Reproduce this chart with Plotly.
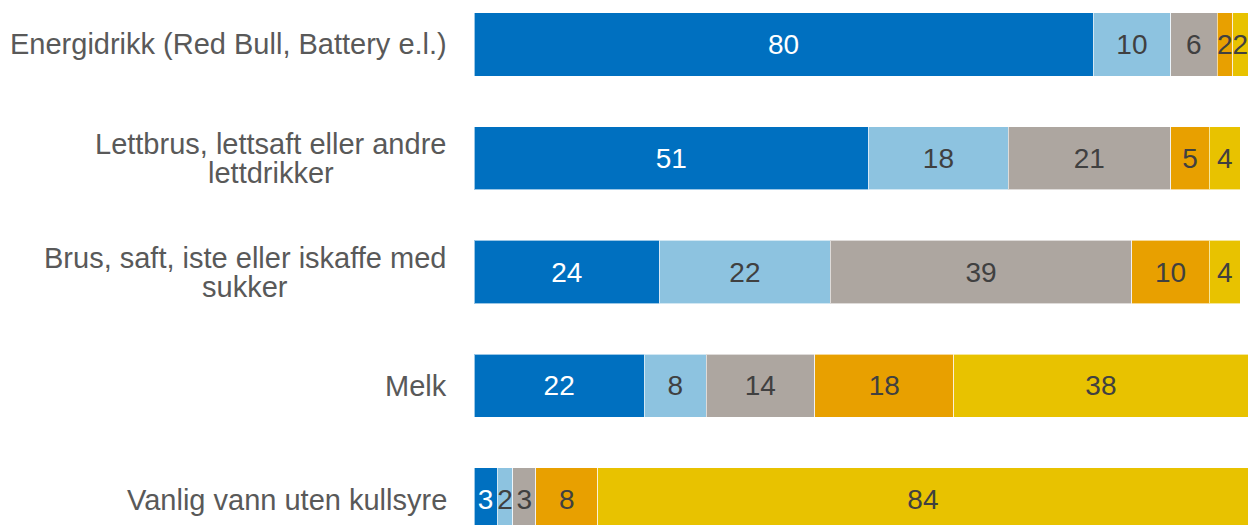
import plotly.graph_objects as go

# Drink categories, listed top to bottom (each sub-list is one label line)
categories = [
    "Energidrikk (Red Bull, Battery e.l.)",
    "Lettbrus, lettsaft eller andre lettdrikker",
    "Brus, saft, iste eller iskaffe med sukker",
    "Melk",
    "Vanlig vann uten kullsyre",
]
category_lines = [
    ["Energidrikk (Red Bull, Battery e.l.)"],
    ["Lettbrus, lettsaft eller andre", "lettdrikker"],
    ["Brus, saft, iste eller iskaffe med", "sukker"],
    ["Melk"],
    ["Vanlig vann uten kullsyre"],
]

# Share (%) per answer group, one list per stacked segment
seg1 = [80, 51, 24, 22, 3]
seg2 = [10, 18, 22, 8, 2]
seg3 = [6, 21, 39, 14, 3]
seg4 = [2, 5, 10, 18, 8]
seg5 = [2, 4, 4, 38, 84]

series = [seg1, seg2, seg3, seg4, seg5]
colors = ["#0070C0", "#8DC3E0", "#ADA6A0", "#E8A000", "#E8C200"]
text_colors = ["#FFFFFF", "#404040", "#404040", "#404040", "#404040"]

FONT = "Liberation Sans, Arial, sans-serif"
VALUE_FS = 28
LABEL_FS = 29
LABEL_COLOR = "#595959"
LABEL_GAP = 26      # px between label block and the bars
LINE_GAP = 29.0     # px between wrapped label lines

# Advance widths (per 1000 em) of Liberation Sans / Arial glyphs
ADV = {
    " ": 278, ",": 278, ".": 278, "(": 333, ")": 333,
    "a": 556, "b": 556, "c": 500, "d": 556, "e": 556, "f": 278, "g": 556,
    "h": 556, "i": 222, "j": 222, "k": 500, "l": 222, "m": 833, "n": 556,
    "o": 556, "p": 556, "r": 333, "s": 500, "t": 278, "u": 556, "v": 500,
    "y": 500, "B": 667, "E": 667, "L": 556, "M": 833, "R": 722, "V": 667,
}


def text_width(s, size):
    return sum(ADV.get(ch, 556) for ch in s) * size / 1000.0


fig = go.Figure()
for vals, col, tcol in zip(series, colors, text_colors):
    fig.add_trace(go.Bar(
        x=vals,
        y=categories,
        orientation="h",
        marker=dict(color=col, line=dict(color="rgba(255,255,255,0.6)", width=1)),
        width=0.555,
        text=[str(v) for v in vals],
        textposition="inside",
        insidetextanchor="middle",
        textangle=0,
        insidetextfont=dict(color=tcol, size=VALUE_FS, family=FONT),
        hoverinfo="skip",
        showlegend=False,
    ))

# Category labels: the block is right aligned next to the bars and the
# wrapped lines are centred under the first (widest) line.
annotations = []
for cat, lines in zip(categories, category_lines):
    n = len(lines)
    block_w = max(text_width(ln, LABEL_FS) for ln in lines)
    centre_shift = -LABEL_GAP - 1.5 - block_w / 2
    for i, line in enumerate(lines):
        offset = ((n - 1) / 2 - i) * LINE_GAP
        if n == 1:
            pos = dict(xanchor="right", xshift=-LABEL_GAP + 1)
        else:
            pos = dict(xanchor="center", xshift=centre_shift)
        annotations.append(dict(
            x=0, xref="paper", y=cat, yref="y", yanchor="middle", yshift=offset,
            text=line, showarrow=False,
            font=dict(size=LABEL_FS, color=LABEL_COLOR, family=FONT),
            **pos,
        ))

fig.update_layout(
    barmode="stack",
    width=1260,
    height=525,
    margin=dict(l=474, r=12, t=0, b=0),
    paper_bgcolor="white",
    plot_bgcolor="white",
    uniformtext=dict(minsize=VALUE_FS, mode="show"),
    annotations=annotations,
    xaxis=dict(range=[0, 100], visible=False, fixedrange=True),
    yaxis=dict(
        type="category",
        categoryorder="array",
        categoryarray=categories,
        range=[4.224, -0.391],
        showgrid=False,
        showline=False,
        zeroline=False,
        ticks="",
        showticklabels=False,
    ),
)

fig.write_html("out.html")
